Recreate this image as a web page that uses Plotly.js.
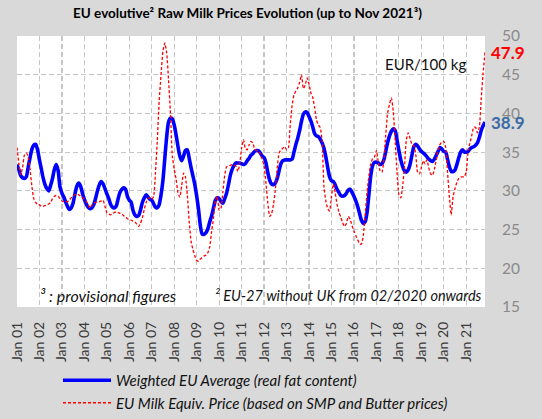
<!DOCTYPE html>
<html>
<head>
<meta charset="utf-8">
<script src="https://cdn.plot.ly/plotly-3.0.1.min.js"></script>
<style>html,body{margin:0;padding:0;background:#d9d9d9;}#chart{width:542px;height:419px;}</style>
</head>
<body>
<div id="chart"></div>
<script>
// Monthly series, Jan 2001 .. Nov 2021 (EUR/100 kg)
const startYear = 2001;

const weightedEU = [
  33.4, 32.7, 32.0, 31.7, 31.6, 31.8, 33.0, 34.3, 35.4, 35.9, 36.0, 35.3, // 2001
  34.0, 32.8, 31.7, 30.8, 30.3, 30.0, 30.7, 31.6, 32.8, 33.4, 32.6, 30.5, // 2002
  29.7, 29.2, 28.6, 28.0, 27.6, 27.8, 28.4, 29.6, 30.6, 31.0, 30.6, 29.7, // 2003
  28.9, 28.3, 27.9, 27.7, 27.8, 28.2, 29.0, 30.0, 30.8, 31.2, 30.9, 30.3, // 2004
  29.6, 29.0, 28.3, 27.9, 27.8, 28.0, 28.9, 29.8, 30.2, 30.4, 30.2, 29.3, // 2005
  28.8, 28.5, 27.5, 26.9, 26.7, 26.8, 27.5, 28.5, 29.1, 29.5, 29.2, 28.9, // 2006
  28.8, 28.3, 27.9, 27.8, 28.2, 29.5, 31.3, 34.2, 37.0, 38.9, 39.4, 39.3, // 2007
  38.5, 37.2, 35.8, 34.5, 33.9, 34.5, 35.2, 35.3, 34.2, 33.0, 31.9, 30.8, // 2008
  29.3, 27.5, 25.5, 24.4, 24.4, 24.6, 25.1, 26.0, 26.8, 27.8, 28.8, 29.1, // 2009
  29.0, 28.6, 28.4, 29.0, 29.7, 30.8, 32.0, 32.8, 33.3, 33.6, 33.6, 33.6, // 2010
  33.5, 33.4, 33.5, 33.9, 34.2, 34.6, 34.8, 35.1, 35.2, 35.2, 34.9, 34.5, // 2011
  34.3, 33.6, 32.4, 31.4, 30.9, 30.8, 31.0, 31.6, 32.6, 33.5, 33.9, 34.0, // 2012
  34.0, 34.0, 34.0, 34.1, 35.0, 36.0, 36.8, 37.8, 39.0, 39.9, 40.2, 40.1, // 2013
  39.6, 39.0, 38.3, 37.4, 37.1, 37.0, 36.7, 36.2, 35.5, 34.4, 33.0, 31.8, // 2014
  31.3, 31.2, 30.8, 30.2, 29.8, 29.4, 29.3, 29.4, 29.7, 30.1, 30.2, 29.8, // 2015
  29.3, 28.7, 28.0, 27.1, 26.2, 25.8, 26.0, 27.2, 29.6, 32.0, 33.3, 33.7, // 2016
  33.7, 33.6, 33.4, 33.5, 34.0, 35.1, 36.2, 37.1, 37.7, 38.0, 37.8, 36.6, // 2017
  35.2, 34.0, 33.2, 32.6, 32.4, 32.7, 33.4, 34.6, 35.7, 36.0, 35.8, 35.4, // 2018
  35.1, 34.9, 34.7, 34.4, 34.1, 33.9, 33.8, 34.1, 34.6, 35.1, 35.6, 35.4, // 2019
  35.1, 35.0, 34.1, 33.1, 32.5, 32.5, 32.7, 33.4, 34.3, 35.0, 35.3, 35.0, // 2020
  35.0, 35.1, 35.4, 35.6, 35.7, 35.9, 36.2, 36.9, 37.8, 38.4, 38.9        // 2021
];

const milkEquiv = [
  35.6, 33.5, 32.1, 33.0, 34.6, 34.9, 34.4, 32.8, 30.5, 29.0, 28.5, 28.2, // 2001
  28.2, 28.0, 28.0, 28.1, 28.2, 28.3, 28.5, 29.0, 29.3, 29.4, 29.3, 29.0, // 2002
  28.7, 28.6, 28.6, 28.6, 28.8, 29.1, 29.3, 29.5, 29.6, 29.5, 29.3, 29.1, // 2003
  28.9, 28.6, 28.2, 27.8, 28.1, 28.4, 28.5, 28.6, 28.6, 28.7, 28.8, 28.0, // 2004
  27.2, 27.0, 26.9, 27.0, 27.2, 27.3, 27.2, 27.1, 27.0, 26.8, 26.6, 26.4, // 2005
  26.3, 26.2, 26.1, 26.0, 25.7, 25.4, 25.8, 26.5, 27.6, 28.5, 29.0, 29.1, // 2006
  28.9, 29.3, 32.2, 36.5, 41.5, 45.0, 48.0, 49.1, 47.8, 44.3, 40.0, 34.5, // 2007
  32.8, 31.5, 29.8, 29.2, 30.6, 32.3, 31.8, 29.5, 26.0, 23.5, 22.4, 21.6, // 2008
  21.0, 20.9, 21.2, 21.4, 21.6, 21.7, 22.0, 22.8, 24.8, 26.5, 28.8, 29.3, // 2009
  27.5, 27.8, 29.8, 32.0, 33.1, 33.2, 33.3, 33.4, 33.3, 33.2, 32.5, 33.5, // 2010
  35.5, 36.6, 35.5, 35.3, 35.9, 36.4, 36.2, 35.4, 35.2, 35.1, 34.8, 34.1, // 2011
  33.3, 31.0, 28.5, 26.7, 27.0, 28.2, 30.0, 32.9, 34.9, 35.3, 35.5, 35.7, // 2012
  35.3, 35.6, 38.5, 41.0, 42.4, 42.9, 43.3, 44.0, 45.0, 43.2, 43.7, 44.6, // 2013
  43.8, 42.6, 42.1, 40.8, 39.2, 38.5, 38.2, 36.5, 30.5, 28.7, 27.7, 27.4, // 2014
  29.3, 30.9, 29.8, 28.3, 27.3, 26.6, 25.9, 25.4, 25.8, 26.7, 26.3, 25.5, // 2015
  24.8, 24.2, 23.7, 23.2, 23.1, 24.2, 26.8, 29.8, 32.0, 33.5, 34.2, 34.4, // 2016
  35.2, 33.6, 32.6, 32.4, 34.0, 37.2, 40.0, 41.2, 42.0, 40.3, 36.5, 32.5, // 2017
  29.5, 29.1, 30.5, 33.0, 36.5, 37.5, 36.8, 36.0, 35.8, 34.8, 32.4, 32.2, // 2018
  33.0, 33.9, 33.5, 34.0, 33.0, 32.2, 32.0, 32.8, 34.0, 35.3, 36.0, 36.3, // 2019
  36.4, 35.6, 32.5, 29.2, 26.9, 29.3, 30.3, 31.1, 31.6, 31.8, 31.8, 31.8, // 2020
  32.5, 35.3, 36.2, 37.2, 38.2, 38.2, 37.5, 38.2, 42.0, 45.2, 47.9        // 2021
];

const seriesNames = [
  'Weighted EU Average (real fat content)',
  'EU Milk Equiv. Price (based on SMP and Butter prices)'
];

const months = weightedEU.map((_, i) => {
  const y = startYear + Math.floor(i / 12);
  const m = (i % 12) + 1;
  return y + '-' + String(m).padStart(2, '0') + '-01';
});
const lastIdx = months.length - 1;

const FONT = 'Lato, "Open Sans", sans-serif';

const traces = [
  {
    x: months, y: weightedEU, name: seriesNames[0], type: 'scatter', mode: 'lines',
    line: {color: '#0000ff', width: 3.6, shape: 'spline', smoothing: 0.7}
  },
  {
    x: months, y: milkEquiv, name: seriesNames[1], type: 'scatter', mode: 'lines',
    line: {color: '#ff0000', width: 1.3, dash: '3px,2px', shape: 'spline', smoothing: 0.5}
  }
];

const layout = {
  width: 542, height: 419,
  paper_bgcolor: '#d9d9d9', plot_bgcolor: '#ffffff',
  margin: {l: 17, r: 57, t: 36, b: 112, autoexpand: false},
  font: {family: FONT, color: '#000'},
  title: {
    text: '<b>EU evolutive² Raw Milk Prices Evolution (up to Nov 2021³)</b>',
    font: {family: FONT, size: 13.5, color: '#000'},
    x: 0.4566, xanchor: 'center', y: 1 - 13 / 419, yanchor: 'middle'
  },
  xaxis: {
    type: 'date', automargin: false,
    range: [months[0], months[lastIdx]],
    tick0: months[0], dtick: 'M12', tickformat: '%b %y',
    tickangle: -90,
    tickfont: {family: FONT, size: 14, color: '#3a3a3a'},
    ticks: '', ticklabelstandoff: 11,
    showgrid: true, gridcolor: '#c6c6c6', gridwidth: 1.2, griddash: '5px,3px',
    zeroline: false, showline: false, fixedrange: true
  },
  yaxis: {
    side: 'right', automargin: false,
    range: [15, 50], dtick: 5, tick0: 15,
    tickfont: {family: FONT, size: 15.5, color: '#8a8a8a'},
    ticks: '', ticklabelstandoff: 16,
    showgrid: true, gridcolor: '#c6c6c6', gridwidth: 1.2, griddash: '5px,3px',
    zeroline: false, showline: false, fixedrange: true
  },
  showlegend: true,
  legend: {
    orientation: 'v', xref: 'paper', x: 0.0876, xanchor: 'left',
    yref: 'container', y: 1 - 364 / 419, yanchor: 'top',
    bgcolor: 'rgba(0,0,0,0)',
    font: {family: FONT, size: 15, color: '#111', style: 'italic'},
    itemwidth: 48, tracegroupgap: 0
  },
  annotations: [
    {text: '<b>47.9</b>', xref: 'x', yref: 'y', x: months[lastIdx], y: milkEquiv[lastIdx],
     xanchor: 'left', yanchor: 'middle', xshift: 5, yshift: 0, showarrow: false,
     borderpad: 0, font: {family: FONT, size: 17, color: '#ff0000'}},
    {text: '<b>38.9</b>', xref: 'x', yref: 'y', x: months[lastIdx], y: weightedEU[lastIdx],
     xanchor: 'left', yanchor: 'middle', xshift: 5, yshift: -1, showarrow: false,
     borderpad: 0, font: {family: FONT, size: 17, color: '#3b6ba5'}},
    {text: 'EUR/100 kg', xref: 'paper', yref: 'paper', x: 0.872, y: 0.897,
     xanchor: 'center', yanchor: 'middle', showarrow: false,
     font: {family: FONT, size: 15, color: '#111'}},
    {text: '³ : provisional figures', xref: 'paper', yref: 'paper', x: 0.045, y: 0.044,
     xanchor: 'left', yanchor: 'middle', showarrow: false,
     font: {family: FONT, size: 16, color: '#111', style: 'italic'}},
    {text: '² EU-27 without UK from 02/2020 onwards', xref: 'paper', yref: 'paper', x: 0.419, y: 0.044,
     xanchor: 'left', yanchor: 'middle', showarrow: false,
     font: {family: FONT, size: 14.5, color: '#111', style: 'italic'}}
  ]
};

Plotly.newPlot('chart', traces, layout, {displayModeBar: false, staticPlot: true});
</script>
</body>
</html>
